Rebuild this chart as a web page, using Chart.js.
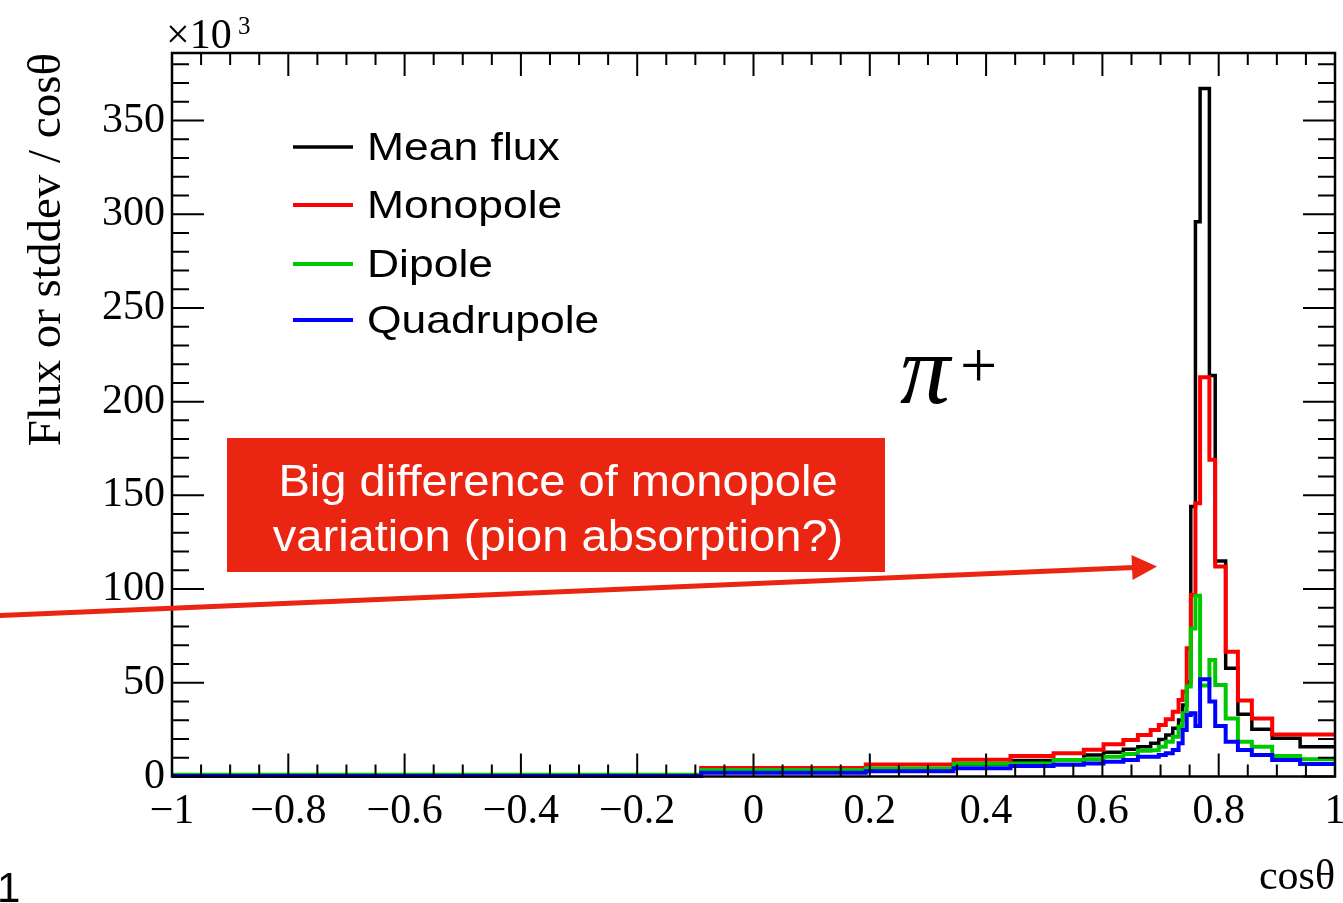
<!DOCTYPE html>
<html>
<head>
<meta charset="utf-8">
<script src="https://cdn.jsdelivr.net/npm/chart.js@4.4.1/dist/chart.umd.min.js"></script>
<style>
  html, body { margin: 0; padding: 0; background: #fff; }
</style>
</head>
<body>
<canvas id="fluxChart" width="1343" height="903"></canvas>
<script>
// variable-width cos(theta) bins, left edges plus the final right edge
const binEdges = [-1, -0.09, 0.193, 0.344, 0.442, 0.516, 0.568, 0.602, 0.636, 0.661,
  0.683, 0.697, 0.709, 0.721, 0.731, 0.738, 0.745, 0.752, 0.760, 0.768,
  0.784, 0.794, 0.812, 0.833, 0.857, 0.892, 0.940, 1];

// bin contents in units of 10^3
const meanFlux = [0.7, 3.3, 4.1, 6.6, 8.5, 8.6, 11.5, 12.9, 14.5, 15.9,
  17.7, 19.8, 22.1, 25.7, 30.1, 38.2, 50.6, 144, 296, 367,
  214, 115, 57.7, 33.2, 25.2, 20.4, 15.9];
const monopole = [0.8, 4.6, 6.4, 9.0, 10.9, 12.4, 14.3, 17.2, 19.5, 22.1,
  24.8, 27.5, 30.5, 34.6, 40.8, 45.3, 68.4, 96.8, 145.8, 213,
  169, 112, 66.6, 40.5, 31, 22.4, 22.4];
const dipole = [0.9, 3.5, 4.3, 6.8, 7.0, 8.8, 9.2, 10.6, 12.0, 13.8,
  14.0, 15.9, 18.6, 21.2, 26.6, 33.7, 48.0, 79, 96.5, 48.5,
  62.2, 48.8, 31, 18.6, 15.9, 10.9, 9.2];
const quadrupole = [0.3, 2.0, 2.8, 4.4, 5.6, 6.3, 6.9, 7.9, 8.8, 10.6,
  10.6, 11.5, 12.4, 14.1, 17.7, 24.8, 32.8, 33.7, 27, 51.9,
  40, 27, 18.6, 14.1, 11.5, 8.8, 6.7];

const seriesNames = ['Mean flux', 'Monopole', 'Dipole', 'Quadrupole'];
const seriesColors = ['#000000', '#ff0000', '#00c800', '#0000ff'];

const xTickValues = [-1, -0.8, -0.6, -0.4, -0.2, 0, 0.2, 0.4, 0.6, 0.8, 1];
const xTickLabels = ['\u22121', '\u22120.8', '\u22120.6', '\u22120.4', '\u22120.2', '0', '0.2', '0.4', '0.6', '0.8', '1'];
const yTickValues = [0, 50, 100, 150, 200, 250, 300, 350];
const yTickLabels = ['0', '50', '100', '150', '200', '250', '300', '350'];

const serif = '"Liberation Serif", "Times New Roman", serif';
const sans = '"Liberation Sans", Arial, Helvetica, sans-serif';
const noteRed = 'rgb(234, 37, 17)';

// histogram as step points: one point per left edge, plus the closing right edge
function toSteps(values) {
  const pts = values.map((v, i) => ({ x: binEdges[i], y: v }));
  pts.push({ x: binEdges[binEdges.length - 1], y: values[values.length - 1] });
  return pts;
}

function hist(i, values, width) {
  return {
    label: seriesNames[i],
    data: toSteps(values),
    borderColor: seriesColors[i],
    borderWidth: width,
    stepped: true, // hold each bin value up to the next edge
    pointRadius: 0,
    fill: false,
    clip: 4,
    order: 4 - i
  };
}

// ROOT style frame with ticks pointing inwards on all four sides
const rootFrame = {
  id: 'rootFrame',
  afterDatasetsDraw(chart) {
    const { ctx, chartArea: a, scales: { x, y } } = chart;
    ctx.save();
    ctx.strokeStyle = '#000';
    ctx.lineWidth = 2;
    ctx.beginPath();
    for (let k = 0; k <= 40; k++) {
      const v = -1 + k * 0.05;
      const px = x.getPixelForValue(v);
      const len = k % 4 === 0 ? 23 : 12;
      ctx.moveTo(px, a.bottom); ctx.lineTo(px, a.bottom - len);
      ctx.moveTo(px, a.top); ctx.lineTo(px, a.top + len);
    }
    for (let v = 0; v <= y.max; v += 10) {
      const py = y.getPixelForValue(v);
      const len = v % 50 === 0 ? 32 : 17;
      ctx.moveTo(a.left, py); ctx.lineTo(a.left + len, py);
      ctx.moveTo(a.right, py); ctx.lineTo(a.right - len, py);
    }
    ctx.stroke();
    ctx.lineWidth = 2.5;
    ctx.strokeRect(a.left, a.top, a.right - a.left, a.bottom - a.top);
    ctx.restore();
  }
};

function wideText(ctx, text, x, y, sx, align) {
  ctx.save();
  ctx.translate(x, y);
  ctx.scale(sx, 1);
  ctx.textAlign = align;
  ctx.fillText(text, 0, 0);
  ctx.restore();
}

// legend, exponent, particle label and the red note with its arrow
const slideNotes = {
  id: 'slideNotes',
  afterDraw(chart) {
    const ctx = chart.ctx;
    ctx.save();
    ctx.textBaseline = 'alphabetic';

    // legend
    const rows = [160, 218, 277, 333];
    chart.data.datasets.forEach((ds, i) => {
      ctx.strokeStyle = ds.borderColor;
      ctx.lineWidth = ds.borderWidth;
      ctx.beginPath();
      ctx.moveTo(293, rows[i] - 13);
      ctx.lineTo(353, rows[i] - 13);
      ctx.stroke();
      ctx.fillStyle = '#000';
      ctx.font = '39px ' + sans;
      wideText(ctx, ds.label, 367, rows[i], 1.14, 'left');
    });

    // axis exponent
    ctx.fillStyle = '#000';
    ctx.font = '42px ' + serif;
    ctx.textAlign = 'left';
    ctx.fillText('\u00d710', 166, 48);
    ctx.font = '25px ' + serif;
    ctx.fillText('3', 238, 34);

    // particle label
    ctx.font = 'italic 100px ' + serif;
    ctx.fillText('\u03c0', 900, 403);
    ctx.font = '66px ' + serif;
    ctx.fillText('+', 960, 387);

    // note box
    ctx.fillStyle = noteRed;
    ctx.fillRect(227, 438, 658, 134);
    ctx.fillStyle = '#fff';
    ctx.font = '44px ' + sans;
    wideText(ctx, 'Big difference of monopole', 558, 496, 1.07, 'center');
    wideText(ctx, 'variation (pion absorption?)', 558, 551, 1.07, 'center');

    // arrow towards the peak
    const x0 = 0, y0 = 615.5, x1 = 1157, y1 = 566.5;
    const len = Math.hypot(x1 - x0, y1 - y0);
    const ux = (x1 - x0) / len, uy = (y1 - y0) / len;
    const headLen = 25, headHalf = 12.5;
    const bx = x1 - ux * headLen, by = y1 - uy * headLen;
    ctx.strokeStyle = noteRed;
    ctx.lineWidth = 5;
    ctx.beginPath();
    ctx.moveTo(x0, y0);
    ctx.lineTo(bx + ux * 2, by + uy * 2);
    ctx.stroke();
    ctx.fillStyle = noteRed;
    ctx.beginPath();
    ctx.moveTo(x1, y1);
    ctx.lineTo(bx - uy * headHalf, by + ux * headHalf);
    ctx.lineTo(bx + uy * headHalf, by - ux * headHalf);
    ctx.closePath();
    ctx.fill();

    // page number
    ctx.fillStyle = '#000';
    ctx.font = '42px ' + sans;
    ctx.fillText('1', -3, 902);
    ctx.restore();
  }
};

const ctx = document.getElementById('fluxChart').getContext('2d');
new Chart(ctx, {
  type: 'line',
  data: {
    datasets: [
      hist(0, meanFlux, 3.5),
      hist(1, monopole, 4),
      hist(2, dipole, 4),
      hist(3, quadrupole, 4)
    ]
  },
  options: {
    responsive: false,
    animation: false,
    devicePixelRatio: 1,
    layout: { padding: { top: 53, right: 8, left: 0, bottom: 0 } },
    plugins: { legend: { display: false }, tooltip: { enabled: false } },
    scales: {
      x: {
        type: 'linear',
        min: -1,
        max: 1,
        afterBuildTicks: s => { s.ticks = xTickValues.map(v => ({ value: v })); },
        afterFit: s => { s.height = 126.5; s.paddingLeft = 0; s.paddingRight = 0; },
        grid: { display: false, drawTicks: false },
        border: { display: false },
        ticks: {
          autoSkip: false,
          maxRotation: 0,
          padding: 10,
          color: '#000',
          font: { family: serif, size: 42 },
          callback: (v, i) => xTickLabels[i]
        },
        title: {
          display: true,
          text: 'cos\u03b8',
          align: 'end',
          color: '#000',
          font: { family: serif, size: 42 },
          padding: { top: 0, bottom: 0 }
        }
      },
      y: {
        type: 'linear',
        min: 0,
        max: 386,
        afterBuildTicks: s => { s.ticks = yTickValues.map(v => ({ value: v })); },
        afterFit: s => { s.width = 172; s.paddingTop = 0; s.paddingBottom = 0; },
        grid: { display: false, drawTicks: false },
        border: { display: false },
        ticks: {
          padding: 7,
          color: '#000',
          font: { family: serif, size: 42 },
          callback: (v, i) => yTickLabels[i]
        },
        title: {
          display: true,
          text: 'Flux or stddev / cos\u03b8',
          align: 'end',
          color: '#000',
          font: { family: serif, size: 47 },
          padding: { top: 19, bottom: 0 }
        }
      }
    }
  },
  plugins: [rootFrame, slideNotes]
});
</script>
</body>
</html>
